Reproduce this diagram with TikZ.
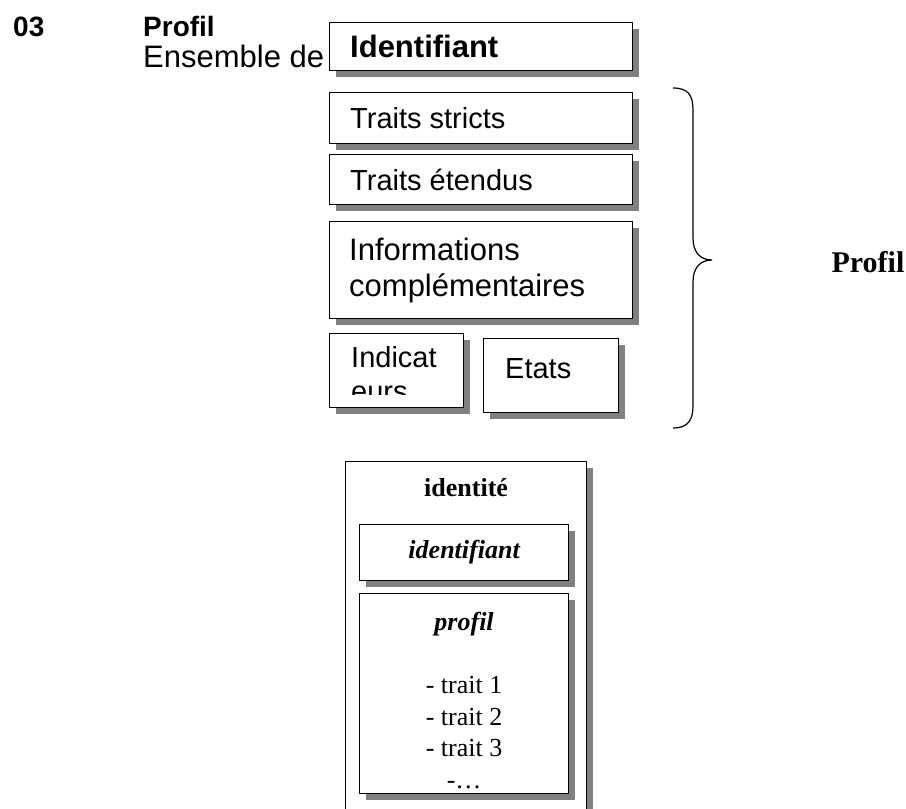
\documentclass[tikz,border=0pt]{standalone}
\usepackage{fontspec}
\setmainfont{Liberation Serif}
\setsansfont{Liberation Sans}
\usetikzlibrary{positioning,shadows}

\begin{document}
\begin{tikzpicture}[x=1pt,y=-1pt,
    box/.style={rectangle, draw=black, line width=1.2pt, fill=white, anchor=north west,
      drop shadow={shadow xshift=6pt, shadow yshift=-6pt, fill=black!50, opacity=1}},
    label/.style={font=\sffamily\fontsize{29}{34}\selectfont, inner sep=0pt, anchor=west},
    serif/.style={font=\fontsize{26}{31.5}\selectfont, inner sep=0pt}
]
\useasboundingbox (0,0) rectangle (906,809);
\clip (0,0) rectangle (906,809);

% titre
\node[font=\sffamily\bfseries\fontsize{28}{34}\selectfont, anchor=base west, inner sep=0pt] (num) at (13,36) {03};
\node[font=\sffamily\bfseries\fontsize{28}{34}\selectfont, anchor=base west, inner sep=0pt] (titre) at (143,36) {Profil};
\node[label, anchor=base west, font=\sffamily\fontsize{31}{34}\selectfont] (ens) at (143,67) {Ensemble de};

% blocs du profil
\node[box, minimum width=303, minimum height=48] (ident) at (329,22) {};
\node[label, right=21pt of ident.west, font=\sffamily\bfseries\fontsize{31}{34}\selectfont] {Identifiant};

\node[box, minimum width=303, minimum height=51] (stricts) at (329,92) {};
\node[label, right=21pt of stricts.west] {Traits stricts};

\node[box, minimum width=303, minimum height=50] (etendus) at (329,154) {};
\node[label, right=21pt of etendus.west] {Traits étendus};

\node[box, minimum width=303, minimum height=97] (infos) at (329,221) {};
\node[label, right=20pt of infos.west, align=left, font=\sffamily\fontsize{31}{36}\selectfont] {Informations\\complémentaires};

\node[box, minimum width=134, minimum height=74] (indic) at (329,333) {};
\begin{scope}
  \clip (indic.north west) rectangle ([yshift=14pt]indic.south east);
  \node[label, anchor=north west, align=left] at (351,346) {Indicat\\eurs};
\end{scope}

\node[box, minimum width=135, minimum height=74] (etats) at (483,338) {};
\node[label, anchor=base west] at ([shift={(22,40)}]etats.north west) {Etats};

% accolade
\draw[line width=1.2pt] (673,88) .. controls (688,88) and (693,95) .. (693,110) -- (693,238)
  .. controls (693,252) and (700,260) .. (712,260)
  .. controls (700,260) and (693,268) .. (693,282) -- (693,406)
  .. controls (693,420) and (688,428) .. (673,428);
\node[serif, font=\bfseries\fontsize{30}{34}\selectfont] (profil) at (868,262) {Profil};

% identite
\node[box, minimum width=241, minimum height=420] (idbox) at (345,461) {};
\node[serif, font=\bfseries\fontsize{26}{31.5}\selectfont, below=17pt of idbox.north] (idt) {identité};

\node[box, minimum width=209, minimum height=56] (idf) at (359,524) {};
\node[serif, font=\bfseries\itshape\fontsize{26}{31.5}\selectfont] at (idf.center) {identifiant};

\node[box, minimum width=209, minimum height=200] (pro) at (359,593) {};
\node[serif, align=center, below=19pt of pro.north] (traits) {{\bfseries\itshape profil}\\[31.5pt]- trait 1\\- trait 2\\- trait 3\\-…};

\end{tikzpicture}
\end{document}
